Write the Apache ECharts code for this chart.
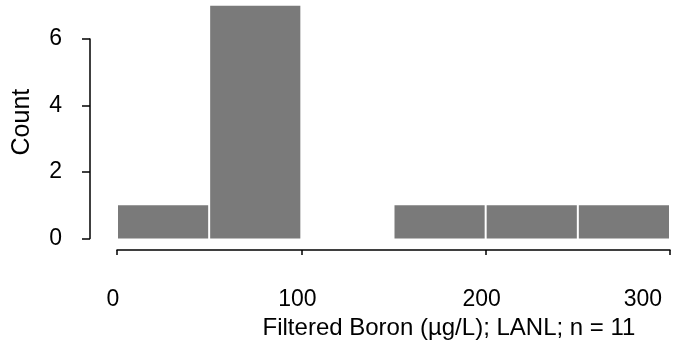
<!DOCTYPE html>
<html><head><meta charset="utf-8">
<script src="https://cdn.jsdelivr.net/npm/echarts@6/dist/echarts.min.js"></script>
<style>html,body{margin:0;padding:0;background:#fff}#c{width:685px;height:349px}</style>
</head><body><div id="c"></div>
<script>
const binStarts = [0, 50, 100, 150, 200, 250];
const binEnds = [50, 100, 150, 200, 250, 300];
const counts = [1, 7, 0, 1, 1, 1];
const xTicks = [0, 100, 200, 300];
const yTicks = [0, 2, 4, 6];
const xTitle = 'Filtered Boron (\u00b5g/L); LANL; n = 11';
const yTitle = 'Count';

const data = binStarts.map((s, i) => [s, binEnds[i], counts[i]]);
const font = 'Liberation Sans, Arial, Helvetica, sans-serif';
const chart = echarts.init(document.getElementById('c'), null, {renderer: 'canvas'});
chart.setOption({
  animation: false,
  backgroundColor: '#fff',
  grid: [
    {left: 117, right: 15, top: 5.75, bottom: 110.5},
    {left: 117, right: 15, top: 39, bottom: 110.5}
  ],
  xAxis: [
    {type: 'value', gridIndex: 0, min: xTicks[0], max: xTicks[xTicks.length - 1], interval: 100, offset: 11.5,
     axisLine: {show: true, onZero: false, lineStyle: {color: '#000', width: 1.5}},
     axisTick: {show: true, length: 5, lineStyle: {color: '#000', width: 1.5}},
     axisLabel: {color: '#000', fontSize: 23, fontFamily: font, margin: 38, padding: [0, 8, 0, 0], alignMaxLabel: 'right'},
     splitLine: {show: false},
     name: xTitle, nameLocation: 'middle', nameGap: 59,
     nameTextStyle: {color: '#000', fontSize: 24, fontFamily: font, padding: [0, 0, 0, 111]}},
    {type: 'value', gridIndex: 1, min: 0, max: 300, show: false}
  ],
  yAxis: [
    {type: 'value', gridIndex: 0, min: 0, max: 7, show: true,
     axisLine: {show: false, onZero: false}, axisTick: {show: false}, axisLabel: {show: false}, splitLine: {show: false},
     name: yTitle, nameLocation: 'middle', nameRotate: 90, nameGap: 82,
     nameTextStyle: {color: '#000', fontSize: 25, fontFamily: font}},
    {type: 'value', gridIndex: 1, min: yTicks[0], max: yTicks[yTicks.length - 1], interval: 2, offset: 27,
     axisLine: {show: true, onZero: false, lineStyle: {color: '#000', width: 1.5}},
     axisTick: {show: true, length: 8, lineStyle: {color: '#000', width: 1.5}},
     axisLabel: {color: '#000', fontSize: 23, fontFamily: font, margin: 28},
     splitLine: {show: false}}
  ],
  series: [{
    type: 'custom', xAxisIndex: 0, yAxisIndex: 0,
    data: data,
    encode: {x: [0, 1], y: 2},
    renderItem: function (params, api) {
      const c = api.value(2);
      if (!c) return null;
      const p0 = api.coord([api.value(0), 0]);
      const p1 = api.coord([api.value(1), c]);
      return {
        type: 'rect',
        shape: {x: p0[0] + 1, y: p1[1], width: p1[0] - p0[0] - 2, height: p0[1] - p1[1]},
        style: {fill: '#7a7a7a'}
      };
    }
  }]
});
</script></body></html>
